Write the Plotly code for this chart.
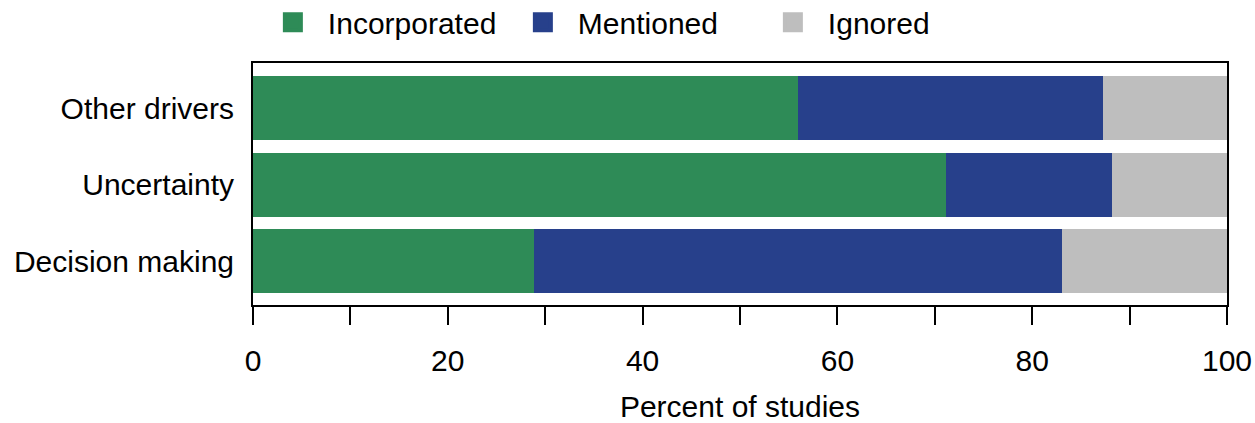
import plotly.graph_objects as go

categories = ["Decision making", "Uncertainty", "Other drivers"]
incorporated = [28.9, 71.1, 56.0]
mentioned = [54.2, 17.1, 31.3]
ignored = [16.9, 11.8, 12.7]

series_names = ["Incorporated", "Mentioned", "Ignored"]
series_values = [incorporated, mentioned, ignored]
colors = ["#2E8B57", "#27408B", "#BEBEBE"]

xticks = list(range(0, 101, 10))
xticklabels = [str(v) if v % 20 == 0 else "" for v in xticks]

FONT = "Liberation Sans, Arial, sans-serif"
FS = 30

fig = go.Figure()
for name, vals, col in zip(series_names, series_values, colors):
    fig.add_trace(go.Bar(
        y=categories, x=vals, name=name, orientation="h",
        marker=dict(color=col, line=dict(width=0)),
        showlegend=False,
    ))
for name, col in zip(series_names, colors):
    fig.add_trace(go.Scatter(
        x=[None], y=[None], mode="markers", name=name,
        marker=dict(symbol="square", size=22, color=col,
                    line=dict(width=4, color=col)),
        showlegend=True,
    ))

fig.update_layout(
    width=1255, height=423,
    margin=dict(l=253, r=28, t=63, b=118, autoexpand=False),
    barmode="stack", bargap=0.163,
    plot_bgcolor="white", paper_bgcolor="white",
    font=dict(family=FONT, size=FS, color="black"),
    legend=dict(orientation="h", traceorder="normal",
                x=0.005, xanchor="left", y=1.168, yanchor="middle",
                font=dict(size=FS), entrywidth=175, entrywidthmode="pixels",
                itemwidth=60, itemsizing="trace", bgcolor="rgba(0,0,0,0)"),
    showlegend=True,
)
fig.update_xaxes(
    range=[0, 100], tickvals=xticks, ticktext=xticklabels,
    ticks="outside", ticklen=18, tickwidth=2, tickcolor="black",
    showline=True, linecolor="black", linewidth=2, mirror=True,
    showgrid=False, zeroline=False, automargin=False,
    tickfont=dict(size=FS), ticklabelstandoff=10,
    title=dict(text="Percent of studies", font=dict(size=FS), standoff=27),
)
fig.update_yaxes(
    categoryorder="array", categoryarray=categories,
    range=[-0.575, 2.59],
    showline=True, linecolor="black", linewidth=2, mirror=True,
    ticks="", showgrid=False, zeroline=False, automargin=False,
    tickfont=dict(size=FS), ticklabelstandoff=11,
)

fig.write_html("out.html", config={"displayModeBar": False},
               post_script="document.body.style.margin='0';document.body.style.overflow='hidden';")
